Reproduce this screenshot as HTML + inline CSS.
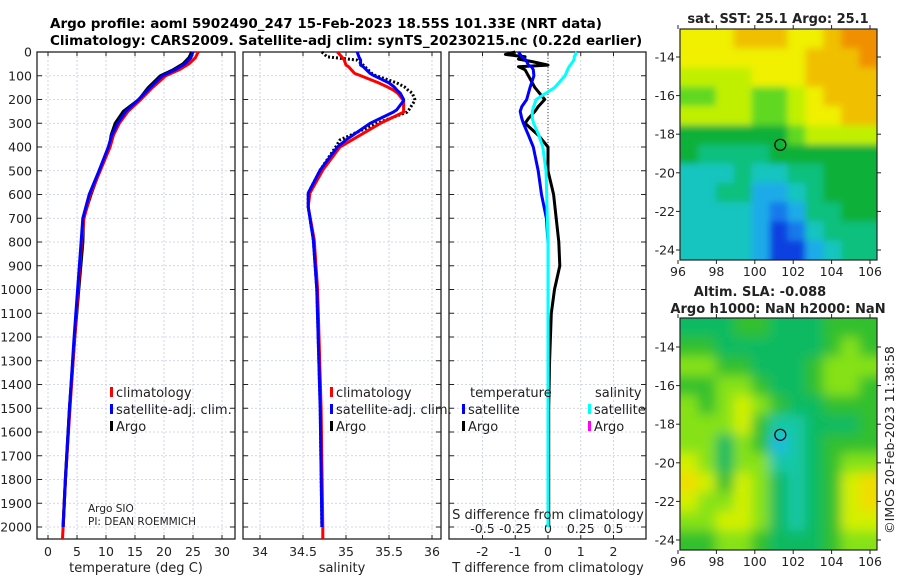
<!DOCTYPE html>
<html><head><meta charset="utf-8"><style>
html,body{margin:0;padding:0;background:#fff;}
svg{display:block;font-family:"DejaVu Sans","Liberation Sans",sans-serif;}
</style></head><body>
<svg id="fig" width="900" height="580" viewBox="0 0 900 580" xmlns="http://www.w3.org/2000/svg">
<defs>
<filter id="bl" x="-5%" y="-5%" width="110%" height="110%"><feGaussianBlur stdDeviation="6"/></filter>
<filter id="bl2" x="-5%" y="-5%" width="110%" height="110%"><feGaussianBlur stdDeviation="3.5"/></filter>
<clipPath id="c1"><rect x="680" y="29" width="197" height="231"/></clipPath>
<clipPath id="c2"><rect x="680" y="318" width="197" height="232"/></clipPath>
</defs>
<text x="50" y="28" font-size="13.5" font-weight="bold">Argo profile: aoml 5902490_247 15-Feb-2023 18.55S 101.33E (NRT data)</text>
<text x="50" y="45" font-size="13.5" font-weight="bold">Climatology: CARS2009. Satellite-adj clim: synTS_20230215.nc (0.22d earlier)</text>
<g id="g"></g>
</svg>
<script>
// ---- data ----
const tDepth=[0,25,50,75,100,150,200,250,300,350,400,500,600,700,800,1000,1200,1500,1800,2000,2050];
const tempClim=[25.9,25.4,24.3,22.6,20.3,18.0,16.0,13.8,12.3,11.3,10.7,9.0,7.3,6.2,5.8,5.2,4.6,3.8,3.0,2.6,2.5];
const tempSat=[25.0,24.6,23.6,21.9,19.7,17.6,15.6,13.4,12.0,11.0,10.4,8.8,7.1,6.0,5.7,5.1,4.5,3.7,3.0,2.6];
const tempArgo=[24.8,24.3,23.3,21.6,19.4,17.3,15.7,13.0,11.6,10.9,10.6,8.9,7.4,6.1,6.0,5.3,4.6,3.7,3.0,2.6];
const sDepth=[0,20,34,55,62,90,97,130,147,160,173,200,205,244,253,300,370,400,497,594,652,790,1000,1500,2000,2050];
const salClim=[34.9,34.95,34.98,35.0,35.03,35.1,35.15,35.38,35.48,35.55,35.6,35.66,35.67,35.67,35.67,35.4,35.07,34.93,34.73,34.58,34.56,34.63,34.67,34.71,34.73,34.73];
const salSat=[35.13,35.15,35.17,35.17,35.2,35.28,35.31,35.5,35.56,35.59,35.63,35.67,35.67,35.59,35.55,35.28,35.0,34.9,34.7,34.56,34.56,34.62,34.66,34.7,34.72];
const salArgo=[34.72,34.78,35.13,35.2,35.22,35.3,35.33,35.59,35.68,35.72,35.77,35.8,35.8,35.73,35.71,35.36,34.93,34.88,34.7,34.56,34.56,34.62,34.66,34.7,34.72];
const dDepth=[0,10,20,30,40,55,62,75,100,150,200,230,250,280,300,350,400,500,600,700,800,900,1000,1100,1300,1500,2000];
const tDiffArgo=[-1.0,-1.3,-0.7,-0.9,-0.5,0.0,-0.9,-0.7,-0.6,-0.4,-0.1,-0.3,-0.4,-0.6,-0.7,-0.3,0.0,0.0,0.17,0.25,0.33,0.36,0.2,0.1,0.05,0.02,0.02];
const tDiffSat=[-0.9,-0.85,-0.8,-0.7,-0.65,-0.6,-0.5,-0.45,-0.43,-0.55,-0.65,-0.8,-0.85,-0.8,-0.75,-0.6,-0.45,-0.3,-0.2,-0.05,0,0,0,0,0,0,0];
const sDiffSat=[0.22,0.21,0.2,0.2,0.19,0.17,0.16,0.15,0.13,0.05,-0.09,-0.11,-0.12,-0.12,-0.11,-0.07,-0.04,-0.015,-0.01,-0.005,0,0,0,0,0,0,0];
const depthTicks=[0,100,200,300,400,500,600,700,800,900,1000,1100,1200,1300,1400,1500,1600,1700,1800,1900,2000];
const tempTicks=[0,5,10,15,20,25,30];
const salTicks=[34,34.5,35,35.5,36];
const tdTicks=[-2,-1,0,1,2];
const sdTicks=[-0.5,-0.25,0,0.25,0.5];
const lonTicks=[96,98,100,102,104,106];
const latTicks=[-14,-16,-18,-20,-22,-24];
const sstGrid=[
[8,8,8,9,9,9,8,8,9,10,10],[8,8,8,8,8,8,8,9,9,9,10],[7,7,7,7,8,8,8,9,9,9,9],[6,6,7,7,6,6,7,8,9,9,9],
[7,7,7,7,6,6,7,8,8,9,9],[5,5,5,5,5,5,6,7,7,7,7],[5,4,4,4,4,5,5,5,5,5,5],[3,3,3,4,3,3,4,4,5,5,5],
[3,3,4,4,2,2,3,4,5,5,5],[3,3,3,3,2,1,2,4,4,5,5],[3,3,3,3,2,0,1,3,4,4,4],[3,3,3,3,2,0,0,2,3,4,4]];
const slaGrid=[
[5,5,5,6,6,5,5,5,6,6,6],[6,6,5,5,5,5,5,5,6,7,6],[7,7,6,6,5,5,5,6,7,7,7],[6,6,7,7,6,5,5,6,7,7,6],
[7,6,7,8,7,6,5,5,6,6,6],[7,7,7,8,6,4,4,5,5,5,6],[7,7,5,7,6,3,4,5,6,6,6],[8,7,5,7,7,4,4,5,6,7,7],
[9,8,6,8,7,5,4,5,6,8,9],[8,7,7,8,7,5,4,5,6,8,9],[7,7,8,8,7,5,4,5,6,8,8],[6,6,7,7,6,5,5,5,6,7,7]];
const floatLon=101.33, floatLat=-18.55;

// ---- drawing ----
const NS='http://www.w3.org/2000/svg';
const G=document.getElementById('g');
function el(tag,attrs,parent){const e=document.createElementNS(NS,tag);for(const k in attrs)e.setAttribute(k,attrs[k]);(parent||G).appendChild(e);return e;}
function txt(x,y,s,size,anchor,parent){const t=el('text',{x:x,y:y,'font-size':size||12,'text-anchor':anchor||'start',fill:'#222'},parent);t.textContent=s;return t;}
const TOP=52,BOT=539;
const yD=d=>TOP+d*0.2375;
const xT=v=>48+v*5.8;
const xS=v=>260+(v-34)*86;
const xTD=v=>548+v*32.75;
const xSD=v=>548+v*131;
const panels=[[37,235],[243,441],[449,646]];
panels.forEach((p,i)=>{
  const g=el('g',{});
  
  
  depthTicks.forEach(d=>{el('line',{x1:p[0],x2:p[1],y1:yD(d),y2:yD(d),stroke:'#c4cce8','stroke-width':0.8,'stroke-dasharray':'2,2'},g);
    el('line',{x1:p[0],x2:p[0]+5,y1:yD(d),y2:yD(d),stroke:'#222'},g);el('line',{x1:p[1]-5,x2:p[1],y1:yD(d),y2:yD(d),stroke:'#222'},g);});
  const ticks=[tempTicks,salTicks,tdTicks][i], fx=[xT,xS,xTD][i];
  ticks.forEach(v=>{el('line',{x1:fx(v),x2:fx(v),y1:TOP,y2:BOT,stroke:'#c4cce8','stroke-width':0.8,'stroke-dasharray':'2,2'},g);
    el('line',{x1:fx(v),x2:fx(v),y1:TOP,y2:TOP+4,stroke:'#222'},g);el('line',{x1:fx(v),x2:fx(v),y1:BOT-4,y2:BOT,stroke:'#222'},g);
    const t=txt(fx(v),556,String(v),12.5,'middle',g);});
  el('rect',{x:p[0],y:TOP,width:p[1]-p[0],height:BOT-TOP,fill:'none',stroke:'#222','stroke-width':1.3},g);
});
depthTicks.forEach(d=>{const t=txt(32,yD(d)+4.5,String(d),12.5,'end');});
sdTicks.forEach(v=>{const t=txt(xSD(v),533,String(v),12.5,'middle');});
function line(xs,ds,fx,color,w,dash,name){
  const pts=xs.map((v,i)=>fx(v).toFixed(1)+','+yD(ds[i]).toFixed(1)).join(' ');
  const l=el('polyline',{points:pts,fill:'none',stroke:color,'stroke-width':w,'stroke-linejoin':'round'});
  if(dash)l.setAttribute('stroke-dasharray',dash);
  
  
}
line(tempArgo,tDepth,xT,'#000',3.2,null,'temp-argo-line');
line(tempClim,tDepth,xT,'#ff0000',3,null,'temp-climatology-line');
line(tempSat,tDepth,xT,'#0000ff',3,null,'temp-satellite-line');
line(salArgo,sDepth,xS,'#000',3,'2,2','sal-argo-line');
line(salClim,sDepth,xS,'#ff0000',3,null,'sal-climatology-line');
line(salSat,sDepth,xS,'#0000ff',3,null,'sal-satellite-line');
el('line',{x1:548,x2:548,y1:TOP,y2:yD(500),stroke:'#444','stroke-width':1,'stroke-dasharray':'1,2'});
line(tDiffArgo,dDepth,xTD,'#000',3,null,'tdiff-argo-line');
line(tDiffSat,dDepth,xTD,'#0000ff',3,null,'tdiff-satellite-line');
line(sDiffSat,dDepth,xSD,'#00ffff',3,null,'sdiff-satellite-line');
// legends
function leg(x,y,c,s,name){const r=el('rect',{x:x,y:y-10,width:3,height:10,fill:c});
  if(s){const t=txt(x+6,y,s,13);}}
[[110],[330]].forEach((o,i)=>{const x=o[0];leg(x,397,'#ff0000','climatology','legend-climatology');leg(x,414,'#0000ff','satellite-adj. clim.','legend-satellite');leg(x,431,'#000','Argo','legend-argo');});
txt(470,397,'temperature',13);txt(595,397,'salinity',13);
leg(462,414,'#0000ff','satellite','legend-t-satellite');leg(462,431,'#000','Argo','legend-t-argo');
leg(588,414,'#00ffff','satellite','legend-s-satellite');leg(588,431,'#ff00ff','Argo','legend-s-argo');
txt(88,512,'Argo SIO',10.5);txt(88,525,'PI: DEAN ROEMMICH',10.5);
txt(548,519,'S difference from climatology',13,'middle');
txt(136,572,'temperature (deg C)',13,'middle');txt(342,572,'salinity',13,'middle');txt(548,572,'T difference from climatology',13,'middle');
// maps
const stops=[[0,[16,64,224]],[0.15,[24,150,240]],[0.25,[32,192,224]],[0.35,[16,200,160]],[0.5,[16,176,56]],[0.6,[96,216,32]],[0.7,[192,240,0]],[0.8,[240,240,0]],[0.9,[240,192,0]],[1,[240,144,0]]];
function cmap(v){v=Math.max(0,v);for(let i=1;i<stops.length;i++){if(v<=stops[i][0]){const a=stops[i-1],b=stops[i],t=(v-a[0])/(b[0]-a[0]);return 'rgb('+a[1].map((c,k)=>Math.round(c+(b[1][k]-c)*t)).join(',')+')';}}return 'rgb(240,144,0)';}
function map(grid,x0,x1,y0,y1,lat14,clip,name,filt,shift){
  const xL=v=>678+(v-96)*19.2, yL=v=>lat14+(-14-v)*19.3;
  const g=el('g',{'clip-path':'url(#'+clip+')'});
  
  
  const inner=el('g',{filter:'url(#'+filt+')'},g);
  const rows=grid.length,cols=grid[0].length,cw=(x1-x0)/cols,ch=(y1-y0)/rows;
  el('rect',{x:x0-20,y:y0-20,width:x1-x0+40,height:y1-y0+40,fill:cmap(0.5)},inner);
  grid.forEach((r,i)=>r.forEach((v,j)=>{const c=el('rect',{x:x0+j*cw-(j==0?20:0),y:y0+i*ch-(i==0?20:0),width:cw+0.5+(j==0||j==cols-1?20:0),height:ch+0.5+(i==0||i==rows-1?20:0),fill:cmap(v/10+shift)},inner);
    }));
  el('rect',{x:x0,y:y0,width:x1-x0,height:y1-y0,fill:'none',stroke:'#222','stroke-width':1.2});
  const m=el('circle',{cx:xL(floatLon),cy:yL(floatLat),r:5.5,fill:'none',stroke:'#000','stroke-width':1.2});
  
  lonTicks.forEach(v=>{el('line',{x1:xL(v),x2:xL(v),y1:y1,y2:y1+4,stroke:'#222'});el('line',{x1:xL(v),x2:xL(v),y1:y0-4,y2:y0,stroke:'#222'});txt(xL(v),y1+16,String(v),12.5,'middle');});
  latTicks.forEach(v=>{el('line',{x1:x0-4,x2:x0,y1:yL(v),y2:yL(v),stroke:'#222'});el('line',{x1:x1,x2:x1+4,y1:yL(v),y2:yL(v),stroke:'#222'});txt(x0-5,yL(v)+4.5,String(v),12.5,'end');});
}
map(sstGrid,680,877,29,260,57,'c1','sst-map','bl2',0);
map(slaGrid,680,877,318,550,347,'c2','sla-map','bl',-0.06);
const b='bold';
[[778,23,'sat. SST: 25.1 Argo: 25.1'],[760,296,'Altim. SLA: -0.088'],[778,313,'Argo h1000: NaN h2000: NaN']].forEach(a=>{const t=txt(a[0],a[1],a[2],13,'middle');t.setAttribute('font-weight',b);});
const cr=txt(0,0,'©IMOS 20-Feb-2023 11:38:58',12.5,'middle');cr.setAttribute('transform','translate(894,440) rotate(-90)');

</script>
</body></html>
